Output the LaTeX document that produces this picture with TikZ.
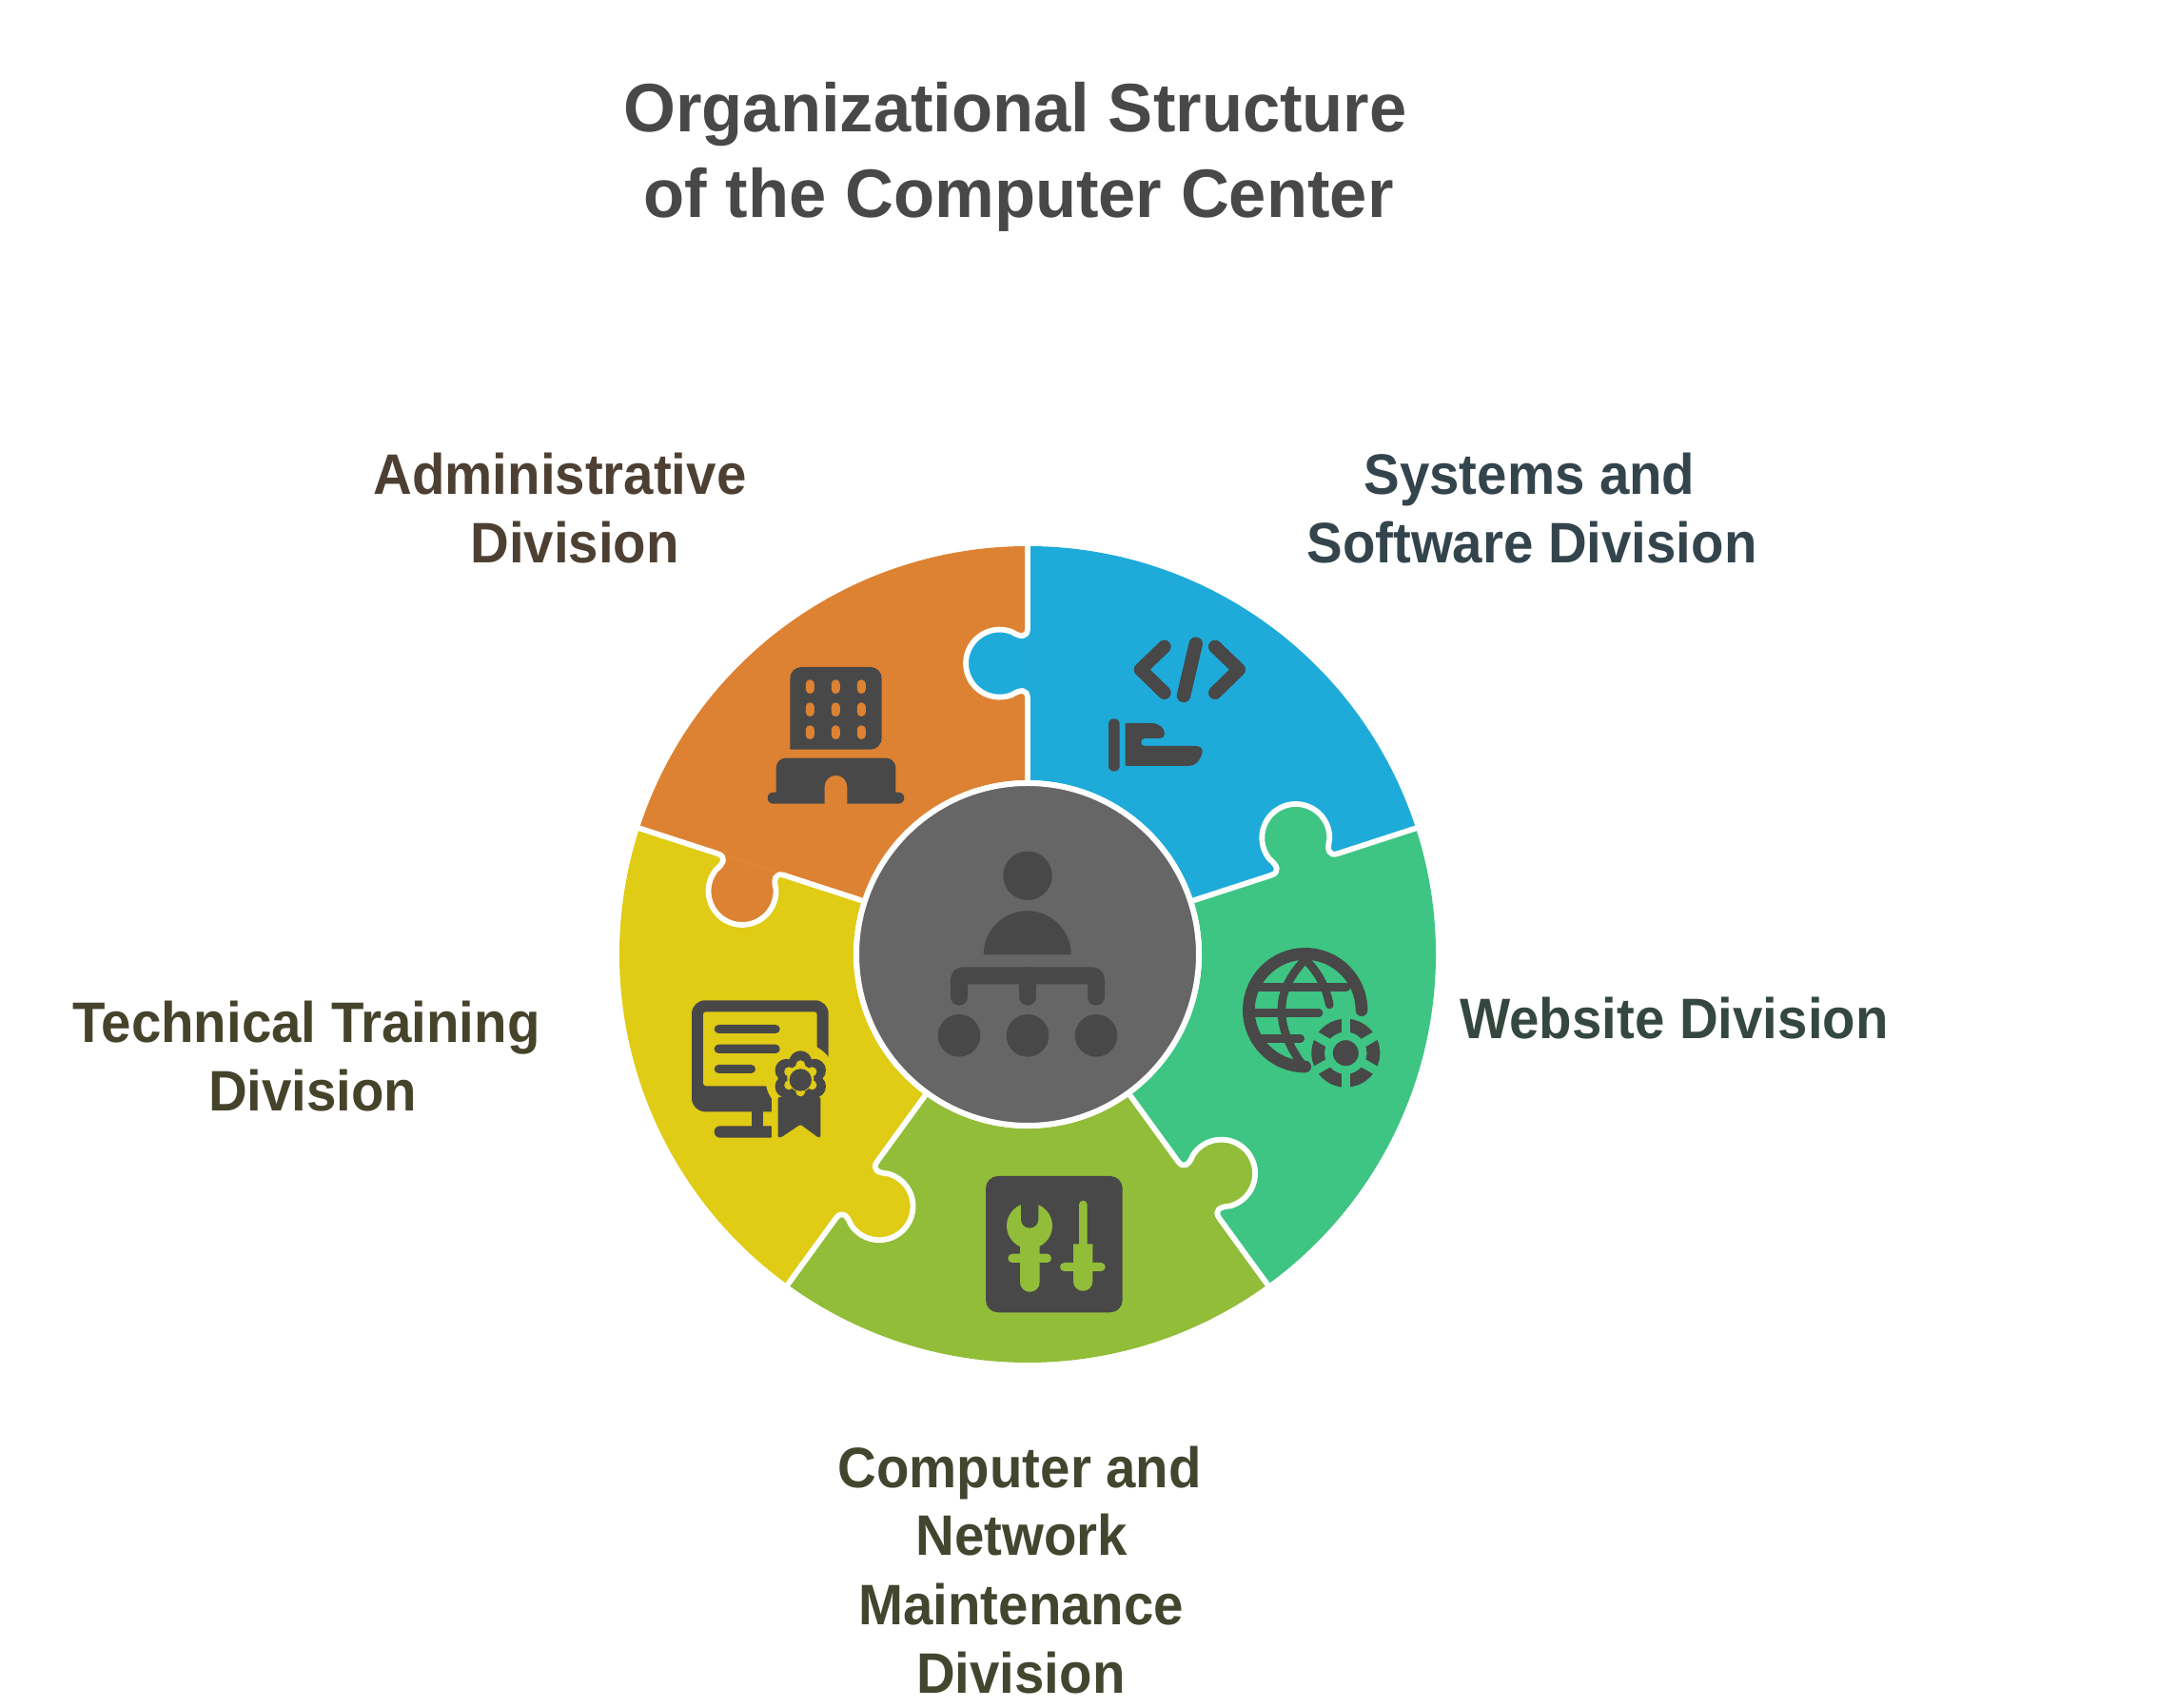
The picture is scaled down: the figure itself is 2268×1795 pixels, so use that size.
\documentclass[tikz,border=0pt]{standalone}
\usepackage{fontspec}
\setmainfont{Liberation Sans}
\newfontfamily\titlefont{Liberation Sans}[FakeStretch=0.98]
\newfontfamily\divisionfont{Liberation Sans}[FakeStretch=0.94]
\definecolor{blueC}{HTML}{1EABDA}
\definecolor{greenC}{HTML}{3EC583}
\definecolor{oliveC}{HTML}{92BD39}
\definecolor{yellowC}{HTML}{E0CB15}
\definecolor{orangeC}{HTML}{DD8232}
\definecolor{hubC}{HTML}{666666}
\definecolor{iconC}{HTML}{484848}
\definecolor{adminT}{HTML}{4D4033}
\definecolor{systemT}{HTML}{33444C}
\definecolor{webT}{HTML}{35483F}
\definecolor{networkT}{HTML}{42462F}
\definecolor{trainT}{HTML}{46432B}
\newcommand{\seamtab}{-- (343,0) .. controls (332,0) and (333.5,8) .. (339,16.7)
	arc[start angle=-21,end angle=201,radius=35.5]
	.. controls (278.2,8) and (279.7,0) .. (268.7,0)}
\tikzset{
	pxframe/.style={yshift=1795pt,yscale=-1},
	seamline/.style={draw=white,line width=5.8pt,line join=round},
	iconline/.style={draw=iconC,line width=#1,line cap=round,line join=round},
	title/.style={anchor=base,text=iconC,font=\fontsize{72}{86}\titlefont\bfseries},
	division/.style={anchor=base,font=\fontsize{60}{72}\divisionfont\bfseries}
}
\begin{document}
\begin{tikzpicture}[x=1pt,y=1pt]
	\useasboundingbox (0,0) rectangle (2268,1795);
	\begin{scope}[shift={(1080,792)}]
		\foreach \ang/\col in {90/blueC,18/greenC,-54/oliveC,-126/yellowC,162/orangeC}
			\fill[\col] (\ang:429) arc[start angle=\ang,end angle=\ang-72,radius=429]
				-- (\ang-72:183) arc[start angle=\ang-72,end angle=\ang,radius=183] -- cycle;
		\foreach \ang/\col in {90/blueC,18/greenC,-54/oliveC,-126/yellowC,162/orangeC}{
			\begin{scope}[rotate=\ang]
				\fill[\col] (350,0) \seamtab -- cycle;
				\draw[seamline] (433,0) \seamtab -- (183,0);
			\end{scope}
		}
		\draw[white,line width=6pt,fill=hubC] (0,0) circle (180);
	\end{scope}
	\begin{scope}[pxframe]
		% hub
		\fill[iconC] (1080,920.3) circle (25.7);
		\fill[iconC] (1033.7,1003.3) arc[start angle=180,end angle=360,radius=46] -- cycle;
		\draw[iconline=18pt,rounded corners=4pt] (1008,1047.7) -- (1008,1025.3) -- (1152,1025.3) -- (1152,1047.7);
		\draw[iconline=18pt] (1080,1025.3) -- (1080,1047.7);
		\foreach \x in {1008,1080,1152}
			\fill[iconC] (\x,1088.3) circle (22.3);
		% building
		\fill[iconC,rounded corners=12pt] (830.3,787.7) -- (830.3,701) -- (926.7,701) -- (926.7,787.7) [sharp corners] -- cycle;
		\foreach \x in {851.3,878.3,905.3}
			\foreach \y in {714.3,738.3,762.3}
				\fill[orangeC,rounded corners=4.4pt] (\x-4.5,\y) rectangle (\x+4.5,\y+14.7);
		\fill[iconC,rounded corners=10pt] (815.7,842) -- (815.7,796.7) -- (941.3,796.7) -- (941.3,842) [sharp corners] -- cycle;
		\fill[iconC,rounded corners=5.9pt] (806.7,832.7) rectangle (950.3,844.7);
		\fill[orangeC] (866.7,846) -- (866.7,826.8) arc[start angle=180,end angle=360,radius=11.8] -- (890.3,846) -- cycle;
		% code
		\draw[iconline=14pt] (1223.7,679.7) -- (1198.7,703.7) -- (1223.7,728);
		\draw[iconline=14pt] (1277,679.7) -- (1302,703.7) -- (1277,728);
		\draw[iconline=14.5pt] (1256.7,676.7) -- (1244,731);
		\fill[iconC,rounded corners=5.7pt] (1165,755.3) rectangle (1176.7,810.7);
		\fill[iconC] (1182.7,760) -- (1210,760) .. controls (1218,760) and (1224,765) .. (1224,771)
			.. controls (1224,774) and (1222,776) .. (1219,776) -- (1203,776)
			.. controls (1198,776) and (1198,784) .. (1203,784) -- (1256,784)
			.. controls (1261,784) and (1263.7,786) .. (1263.7,790)
			.. controls (1262,799) and (1256,805) .. (1250,805) -- (1184,805) -- (1182.7,804) -- cycle;
		% globe
		\draw[iconline=12.7pt] (1431,1061.7) arc[start angle=0,end angle=-270,radius=59.3];
		\draw[iconline=8.7pt] (1320,1037.3) -- (1415,1037.3);
		\draw[iconline=8.7pt] (1316,1064.3) -- (1386,1064.3);
		\draw[iconline=8.7pt] (1320,1091.7) -- (1366.7,1091.7);
		\draw[iconline=8.7pt] (1371.7,1008) .. controls (1352,1030) and (1347,1045) .. (1347,1062)
			.. controls (1347,1085) and (1358,1105) .. (1371,1122);
		\draw[iconline=8.7pt] (1371.7,1008) .. controls (1385,1022) and (1393,1035) .. (1397.3,1056);
		\fill[greenC] (1414.3,1106.7) circle (38);
		\draw[iconC,line width=14pt] (1414.3,1106.7) circle (29);
		\foreach \a in {30,90,150}
			\draw[greenC,line width=9.3pt] (1414.3,1106.7) +(\a:38) -- +(\a+180:38);
		\fill[greenC] (1414.3,1106.7) circle (22);
		\fill[iconC] (1414.3,1106.7) circle (13.5);
		% tools
		\fill[iconC,rounded corners=13pt] (1036,1236) rectangle (1179.7,1379.3);
		\fill[oliveC] (1082,1288.3) circle (24);
		\fill[iconC] (1073,1258) -- (1073,1281.5) arc[start angle=180,end angle=0,radius=9.15] -- (1091.3,1258) -- cycle;
		\fill[oliveC] (1072,1305) -- (1072,1347.4) arc[start angle=180,end angle=0,radius=10.35] -- (1092.7,1305) -- cycle;
		\fill[oliveC,rounded corners=4.6pt] (1059.3,1317.7) rectangle (1105,1327);
		\fill[oliveC] (1134,1308) -- (1134,1266) arc[start angle=180,end angle=360,radius=4.35] -- (1142.7,1308) -- cycle;
		\fill[oliveC] (1128,1307.3) -- (1128,1346.6) arc[start angle=180,end angle=0,radius=10.15] -- (1148.3,1307.3) -- cycle;
		\fill[oliveC,rounded corners=4.5pt] (1114,1327) rectangle (1161.7,1336);
		% certificate
		\fill[iconC,rounded corners=14pt] (727,1051.3) rectangle (870.7,1168.3);
		\fill[yellowC,rounded corners=3pt] (739,1063.3) rectangle (858.7,1141.3);
		\fill[iconC] (789.7,1165) rectangle (802,1186);
		\fill[iconC,rounded corners=6pt] (750.7,1183.3) -- (750.7,1195.7) -- (815,1195.7) -- (815,1183.3) -- cycle;
		\fill[yellowC] (841.3,1133.3) circle (37);
		\fill[yellowC] (811,1133) rectangle (875,1200);
		\fill[iconC,rounded corners=4.5pt] (750.7,1077) rectangle (819.7,1086);
		\fill[iconC,rounded corners=4.5pt] (750.7,1097.7) rectangle (819.7,1107);
		\fill[iconC,rounded corners=4.5pt] (750.7,1119) rectangle (794,1128);
		\fill[iconC,rounded corners=1.5pt] (817.7,1153) -- (817.7,1195.5) -- (820.5,1195.5) -- (841.3,1181.7) -- (860,1195.5) -- (862.3,1195.5) -- (862.3,1153) -- cycle;
		\fill[iconC] (841.3,1133.3) circle (22);
		\foreach \a in {-90,-30,...,210}
			\fill[iconC] (841.3,1133.3) +(\a:17) circle (12);
		\fill[yellowC] (841.3,1133.3) circle (14);
		\foreach \a in {-90,-30,...,210}
			\fill[yellowC] (841.3,1133.3) +(\a:14) circle (5);
		\fill[iconC] (841.3,1135) circle (11.7);
		% labels
		\node[title] (title1) at (1067,138.3) {Organizational Structure};
		\node[title] (title2) at (1070.6,228.3) {of the Computer Center};
		\node[division,text=adminT] (admin1) at (588.5,520) {Administrative};
		\node[division,text=adminT] (admin2) at (604,591.7) {Division};
		\node[division,text=systemT] (system1) at (1607.5,520) {Systems and};
		\node[division,text=systemT] (system2) at (1610,591.7) {Software Division};
		\node[division,text=webT] (web1) at (1759.5,1091.7) {Website Division};
		\node[division,text=trainT] (train1) at (322,1095.7) {Technical Training};
		\node[division,text=trainT] (train2) at (328.7,1167.7) {Division};
		\node[division,text=networkT] (network1) at (1071.8,1563.3) {Computer and};
		\node[division,text=networkT] (network2) at (1074,1635) {Network};
		\node[division,text=networkT] (network3) at (1073.3,1707.7) {Maintenance};
		\node[division,text=networkT] (network4) at (1072.8,1779.3) {Division};
	\end{scope}
\end{tikzpicture}
\end{document}
